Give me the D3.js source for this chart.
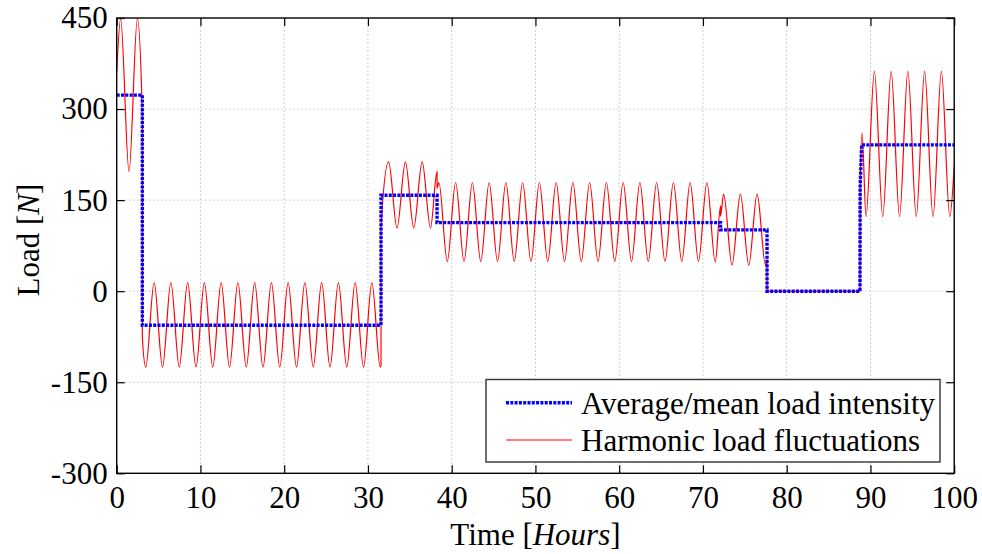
<!DOCTYPE html>
<html>
<head>
<meta charset="utf-8">
<script src="https://cdn.jsdelivr.net/npm/d3@7.9.0/dist/d3.min.js"></script>
<style>
  body { margin: 0; background: #fff; }
  text { font-family: "Liberation Serif", "Times New Roman", serif; }
</style>
</head>
<body>
<div id="chart"></div>
<script>
// tick values
const xTickValues = [0, 10, 20, 30, 40, 50, 60, 70, 80, 90, 100];
const yTickValues = [-300, -150, 0, 150, 300, 450];

// average / mean load (step profile)
const meanTime = [0, 3.06, 3.06, 31.56, 31.56, 38.25, 38.25, 72.1, 72.1, 77.65, 77.65, 88.75, 88.77, 88.95, 100];
const meanLoad = [323, 323, -56, -56, 158, 158, 113, 113, 101, 101, 0, 0, 172, 241, 241];

// harmonic load: turning points [time, load]
const harmonic = [
  // 0 - 3 h
  [0, 360], [0.47, 449], [1.47, 197], [2.47, 449], [3.06, 288],
  // 3 - 31.5 h
  [3.06, -75], [3.47, -125], [4.47, 14], [5.47, -125], [6.47, 14], [7.47, -125], [8.47, 14],
  [9.47, -125], [10.47, 14], [11.47, -125], [12.47, 14], [13.47, -125], [14.47, 14],
  [15.47, -125], [16.47, 14], [17.47, -125], [18.47, 14], [19.47, -125], [20.47, 14],
  [21.47, -125], [22.47, 14], [23.47, -125], [24.47, 14], [25.47, -125], [26.47, 14],
  [27.47, -125], [28.47, 14], [29.47, -125], [30.47, 14], [31.47, -125], [31.56, -122],
  // 31.5 - 38 h
  [31.56, 106], [32.47, 213], [33.47, 104], [34.47, 213], [35.47, 104], [36.47, 213],
  [37.47, 104], [38.25, 197],
  // 38 - 72 h
  [38.25, 170], [38.47, 179], [39.47, 49], [40.47, 179], [41.47, 49], [42.47, 179],
  [43.47, 49], [44.47, 179], [45.47, 49], [46.47, 179], [47.47, 49], [48.47, 179],
  [49.47, 49], [50.47, 179], [51.47, 49], [52.47, 179], [53.47, 49], [54.47, 179],
  [55.47, 49], [56.47, 179], [57.47, 49], [58.47, 179], [59.47, 49], [60.47, 179],
  [61.47, 49], [62.47, 179], [63.47, 49], [64.47, 179], [65.47, 49], [66.47, 179],
  [67.47, 49], [68.47, 179], [69.47, 49], [70.47, 179], [71.47, 48], [72.1, 140],
  // 72 - 77.6 h
  [72.1, 124], [72.47, 160], [73.47, 43], [74.47, 160], [75.47, 43], [76.47, 160],
  [77.47, 43], [77.65, 52],
  // 77.6 - 88.8 h
  [77.65, 0], [88.75, 0], [88.77, 172], [89.0, 261],
  // 89 - 100 h
  [89.47, 123], [90.47, 362], [91.47, 123], [92.47, 362], [93.47, 123], [94.47, 362],
  [95.47, 123], [96.47, 362], [97.47, 123], [98.47, 362], [99.47, 123], [100, 205]
];

const W = 982, H = 554;
const plot = { left: 116.7, right: 954.2, top: 18, bottom: 473.3 };

const svg = d3.select("#chart").append("svg")
  .attr("width", W)
  .attr("height", H)
  .style("display", "block");

svg.append("rect").attr("width", W).attr("height", H).attr("fill", "#fff");

const x = d3.scaleLinear().domain([0, 100]).range([plot.left, plot.right]);
const y = d3.scaleLinear().domain([-300, 450]).range([plot.bottom, plot.top]);

// grid
const grid = svg.append("g")
  .attr("stroke", "#c4c4c4")
  .attr("stroke-width", 0.8)
  .attr("stroke-dasharray", "2,2");
grid.selectAll(".vg").data(xTickValues.slice(1, -1)).enter().append("line")
  .attr("x1", d => x(d)).attr("x2", d => x(d))
  .attr("y1", plot.top).attr("y2", plot.bottom);
grid.selectAll(".hg").data(yTickValues.slice(1, -1)).enter().append("line")
  .attr("y1", d => y(d)).attr("y2", d => y(d))
  .attr("x1", plot.left).attr("x2", plot.right);

// clip
svg.append("clipPath").attr("id", "clip")
  .append("rect")
  .attr("x", plot.left).attr("y", plot.top - 2)
  .attr("width", plot.right - plot.left).attr("height", plot.bottom - plot.top + 4);

// harmonic line
const harmLine = d3.line()
  .x(d => x(d[0]))
  .y(d => y(d[1]))
  .curve(d3.curveMonotoneX);

svg.append("path")
  .datum(harmonic)
  .attr("clip-path", "url(#clip)")
  .attr("fill", "none")
  .attr("stroke", "#ff0000")
  .attr("stroke-width", 1.2)
  .attr("d", harmLine);

// mean line (dotted blue)
const meanLine = d3.line()
  .x((d, i) => x(meanTime[i]))
  .y(d => y(d));

svg.append("path")
  .datum(meanLoad)
  .attr("fill", "none")
  .attr("stroke", "#0000ff")
  .attr("stroke-width", 3.4)
  .attr("stroke-dasharray", "3,1.3")
  .attr("d", meanLine);

// axes with inward ticks
const fontSize = 31;
const plain = d => String(d); // hyphen minus like the original, not U+2212
const xAxis = svg.append("g")
  .attr("transform", `translate(0,${plot.bottom})`)
  .call(d3.axisBottom(x).tickValues(xTickValues).tickFormat(plain).tickSizeInner(-8).tickSizeOuter(0).tickPadding(13));
const yAxis = svg.append("g")
  .attr("transform", `translate(${plot.left},0)`)
  .call(d3.axisLeft(y).tickValues(yTickValues).tickFormat(plain).tickSizeInner(-8).tickSizeOuter(0).tickPadding(9));
const xTop = svg.append("g")
  .attr("transform", `translate(0,${plot.top})`)
  .call(d3.axisTop(x).tickValues(xTickValues).tickSizeInner(-8).tickSizeOuter(0).tickFormat(""));
const yRight = svg.append("g")
  .attr("transform", `translate(${plot.right},0)`)
  .call(d3.axisRight(y).tickValues(yTickValues).tickSizeInner(-8).tickSizeOuter(0).tickFormat(""));

[xAxis, yAxis, xTop, yRight].forEach(g => {
  g.select(".domain").remove();
  g.selectAll(".tick line").attr("stroke", "#000").attr("stroke-width", 1.2);
  g.selectAll("text")
    .attr("fill", "#000")
    .style("font-family", '"Liberation Serif", "Times New Roman", serif')
    .style("font-size", fontSize + "px");
});

// box
svg.append("rect")
  .attr("x", plot.left).attr("y", plot.top)
  .attr("width", plot.right - plot.left).attr("height", plot.bottom - plot.top)
  .attr("fill", "none")
  .attr("stroke", "#000")
  .attr("stroke-width", 1.4);

// axis labels
const xl = svg.append("text")
  .attr("x", (plot.left + plot.right) / 2)
  .attr("y", 545)
  .attr("text-anchor", "middle")
  .style("font-size", fontSize + "px");
xl.append("tspan").text("Time [");
xl.append("tspan").style("font-style", "italic").text("Hours");
xl.append("tspan").text("]");

const yl = svg.append("text")
  .attr("transform", "translate(39,240) rotate(-90)")
  .attr("text-anchor", "middle")
  .style("font-size", fontSize + "px");
yl.append("tspan").text("Load [");
yl.append("tspan").style("font-style", "italic").text("N");
yl.append("tspan").text("]");

// legend
const legend = svg.append("g");
legend.append("rect")
  .attr("x", 486).attr("y", 379.5)
  .attr("width", 454).attr("height", 82.5)
  .attr("fill", "#fff")
  .attr("stroke", "#333")
  .attr("stroke-width", 1.4);

const legendItems = [
  { label: "Average/mean load intensity", color: "#0000ff", width: 3.4, dash: "3,1.3", yy: 402.8 },
  { label: "Harmonic load fluctuations", color: "#ff0000", width: 1.2, dash: null, yy: 440 }
];
legendItems.forEach(it => {
  legend.append("line")
    .attr("x1", 506).attr("x2", 572)
    .attr("y1", it.yy).attr("y2", it.yy)
    .attr("stroke", it.color)
    .attr("stroke-width", it.width)
    .attr("stroke-dasharray", it.dash);
  legend.append("text")
    .attr("x", 581)
    .attr("y", it.yy + 11)
    .style("font-size", fontSize + "px")
    .text(it.label);
});
</script>
</body>
</html>
